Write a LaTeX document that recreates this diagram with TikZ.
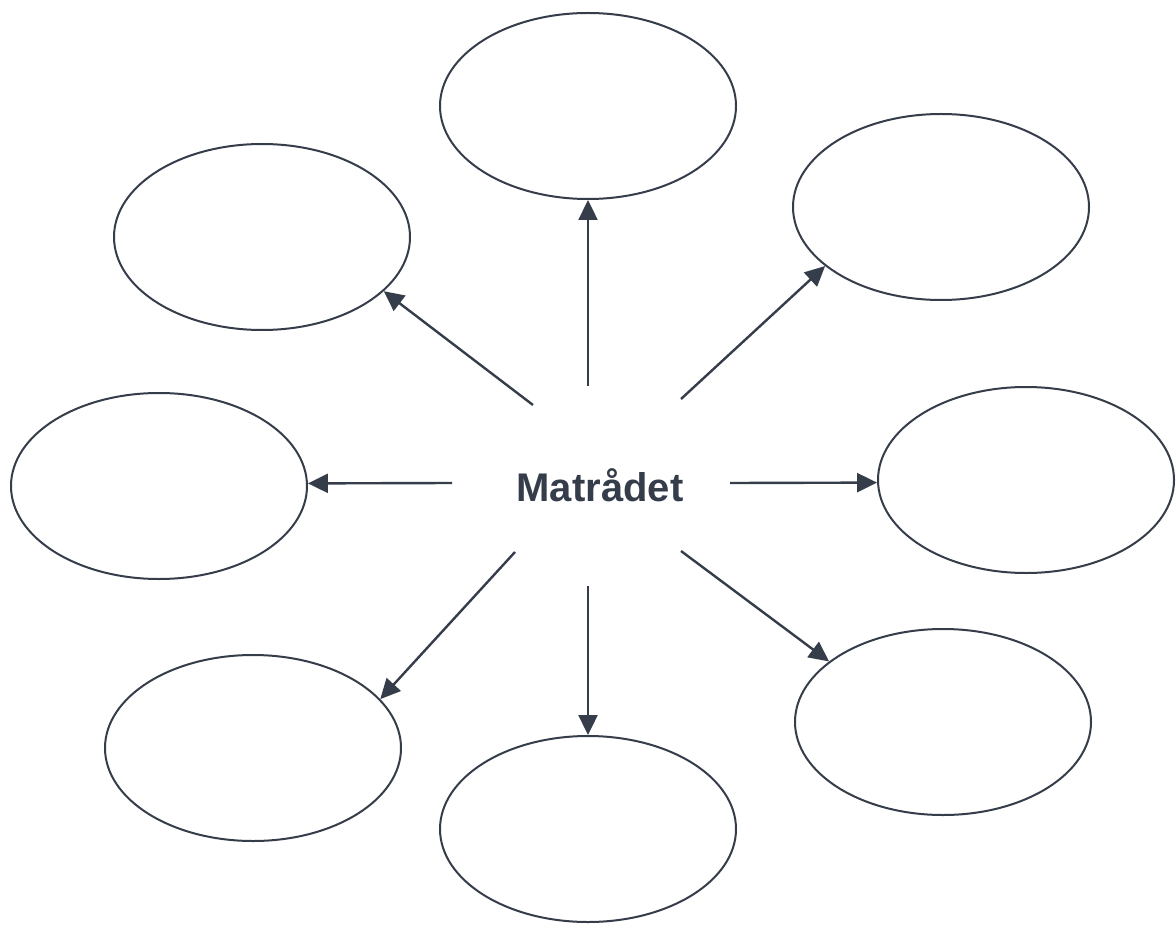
\documentclass[tikz,border=0pt]{standalone}
\usepackage{fontspec}
\setmainfont{Liberation Sans}
\usetikzlibrary{shapes.geometric,arrows.meta}
\definecolor{ink}{RGB}{54,61,74}
\tikzset{
  bubble/.style={draw=ink, line width=1pt, ellipse, minimum width=148pt, minimum height=93pt, inner sep=0pt},
  link/.style={draw=ink, line width=1.2pt, -{Triangle[length=10pt,width=9.5pt]}},
  hub/.style={text=ink, font=\bfseries\fontsize{20}{24}\selectfont, anchor=base, inner sep=0pt}
}
\begin{document}
\begin{tikzpicture}[x=0.5pt,y=-0.5pt]
  \useasboundingbox[fill=white] (0,0) rectangle (1176,935);

  % central label
  \node[hub] (hub) at (600,501) {Matrådet};

  % surrounding empty bubbles
  \node[bubble] (top)  at (588,106) {};
  \node[bubble] (tl)   at (262,237) {};
  \node[bubble] (tr)   at (941,207) {};
  \node[bubble] (lft)  at (159,486) {};
  \node[bubble] (rgt)  at (1026,480) {};
  \node[bubble] (bl)   at (253,748) {};
  \node[bubble] (bot)  at (588,829) {};
  \node[bubble] (br)   at (943,722) {};

  % start points of the spokes around the label
  \coordinate (sUp) at (588,386);
  \coordinate (sUL) at (533,405);
  \coordinate (sUR) at (681,399);
  \coordinate (sL)  at (452,483);
  \coordinate (sR)  at (730,483);
  \coordinate (sDL) at (515,552);
  \coordinate (sD)  at (588,586);
  \coordinate (sDR) at (681,551);

  % spokes
  \draw[link] (sUp) -- (top.-90);
  \draw[link] (sUL) -- (tl.-24);
  \draw[link] (sUR) -- (tr.-153.6);
  \draw[link] (sL)  -- (lft.1);
  \draw[link] (sR)  -- (rgt.181);
  \draw[link] (sDL) -- (bl.21);
  \draw[link] (sD)  -- (bot.90);
  \draw[link] (sDR) -- (br.152.7);
\end{tikzpicture}
\end{document}
